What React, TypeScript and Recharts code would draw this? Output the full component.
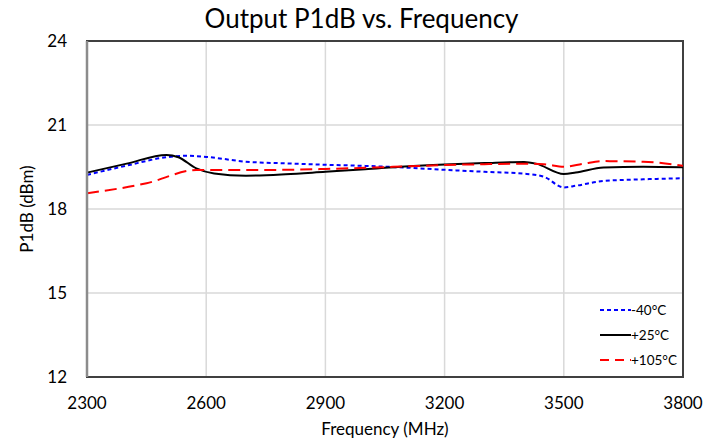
import React from "react";
import {
  LineChart,
  Line,
  XAxis,
  YAxis,
  CartesianGrid,
  ReferenceArea,
} from "recharts";

// values
const coldFreq = [2300, 2400, 2500, 2550, 2600, 2700, 2800, 2900, 3000, 3100, 3200, 3300, 3400, 3450, 3500, 3530, 3600, 3700, 3800];
const coldP1dB = [19.22, 19.55, 19.85, 19.9, 19.86, 19.69, 19.63, 19.58, 19.54, 19.48, 19.4, 19.33, 19.26, 19.15, 18.77, 18.83, 19.0, 19.06, 19.1];

const roomFreq = [2300, 2400, 2500, 2530, 2575, 2620, 2700, 2800, 2900, 3000, 3100, 3200, 3300, 3400, 3430, 3500, 3530, 3600, 3700, 3800];
const roomP1dB = [19.3, 19.62, 19.93, 19.85, 19.45, 19.27, 19.19, 19.24, 19.33, 19.42, 19.52, 19.59, 19.64, 19.68, 19.62, 19.25, 19.3, 19.48, 19.51, 19.49];

const hotFreq = [2300, 2450, 2575, 2700, 2800, 2900, 3000, 3100, 3200, 3300, 3400, 3450, 3500, 3550, 3600, 3700, 3800];
const hotP1dB = [18.56, 18.92, 19.39, 19.39, 19.4, 19.43, 19.47, 19.52, 19.57, 19.6, 19.62, 19.6, 19.51, 19.62, 19.71, 19.69, 19.54];

const xTicks = [2300, 2600, 2900, 3200, 3500, 3800];
const yTicks = [12, 15, 18, 21, 24];

const toPoints = (xs: number[], ys: number[]) => xs.map((f, i) => ({ f, p: ys[i] }));

const FONT = "Lato, 'Open Sans', sans-serif";

const legendItems = [
  { label: "-40°C", color: "#0000ff", dash: "4 3" },
  { label: "+25°C", color: "#000000", dash: "" },
  { label: "+105°C", color: "#ff0000", dash: "9 6" },
];

function LegendBox() {
  return (
    <div style={{ position: "absolute", left: 600, top: 297, fontFamily: FONT, fontSize: 13.5, color: "#000" }}>
      {legendItems.map((it) => (
        <div key={it.label} style={{ display: "flex", alignItems: "center", height: 25 }}>
          <svg width={31} height={6}>
            <line x1={0} y1={3} x2={31} y2={3} stroke={it.color} strokeWidth={2} strokeDasharray={it.dash} />
          </svg>
          <span>{it.label}</span>
        </div>
      ))}
    </div>
  );
}

export default function App() {
  return (
    <div style={{ position: "absolute", left: 0, top: 0, width: 723, height: 441, background: "#fff" }}>
      <div
        style={{
          position: "absolute",
          top: 2,
          left: 0,
          width: 723,
          textAlign: "center",
          fontFamily: FONT,
          fontSize: 26,
          color: "#000",
        }}
      >
        Output P1dB vs. Frequency
      </div>
      <LineChart width={723} height={441} margin={{ top: 41, right: 40, bottom: 34, left: 0 }}>
        <CartesianGrid stroke="#d9d9d9" strokeWidth={1.5} verticalValues={xTicks} horizontalValues={yTicks} />
        <ReferenceArea x1={2300} x2={3800} y1={12} y2={24} fill="none" stroke="#404040" strokeWidth={2} ifOverflow="visible" />
        <XAxis
          type="number"
          dataKey="f"
          domain={[2300, 3800]}
          ticks={xTicks}
          allowDataOverflow
          tickLine={false}
          axisLine={false}
          tickMargin={14}
          height={30}
          tick={{ fill: "#000", fontSize: 17, fontFamily: FONT }}
          label={{ value: "Frequency (MHz)", position: "insideBottom", offset: -28, fill: "#000", fontSize: 17, fontFamily: FONT }}
        />
        <YAxis
          type="number"
          domain={[12, 24]}
          ticks={yTicks}
          width={87}
          tickLine={false}
          axisLine={{ stroke: "#8c8c8c", strokeWidth: 2.5 }}
          tickMargin={14}
          tick={{ fill: "#000", fontSize: 17, fontFamily: FONT }}
          label={{ value: "P1dB (dBm)", angle: -90, position: "insideLeft", offset: 27, fill: "#000", fontSize: 17, fontFamily: FONT, style: { textAnchor: "middle" } }}
        />
        <Line
          data={toPoints(coldFreq, coldP1dB)}
          dataKey="p"
          type="monotone"
          stroke="#0000ff"
          strokeWidth={2}
          strokeDasharray="4 3"
          dot={false}
          isAnimationActive={false}
        />
        <Line
          data={toPoints(roomFreq, roomP1dB)}
          dataKey="p"
          type="monotone"
          stroke="#000000"
          strokeWidth={2}
          dot={false}
          isAnimationActive={false}
        />
        <Line
          data={toPoints(hotFreq, hotP1dB)}
          dataKey="p"
          type="monotone"
          stroke="#ff0000"
          strokeWidth={2}
          strokeDasharray="12 6"
          dot={false}
          isAnimationActive={false}
        />
      </LineChart>
      <LegendBox />
    </div>
  );
}
